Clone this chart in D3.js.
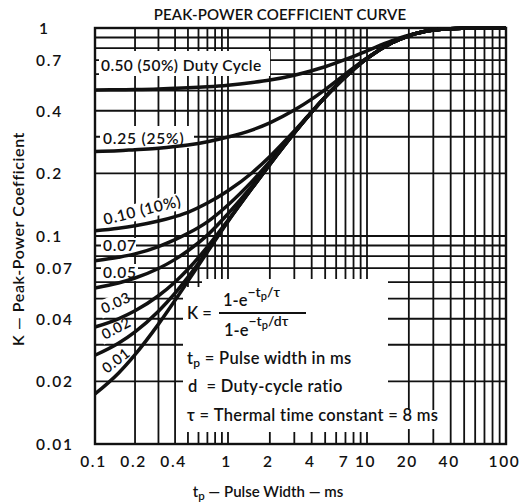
<!DOCTYPE html>
<html><head><meta charset="utf-8">
<script src="https://cdn.jsdelivr.net/npm/d3@7"></script>
<style>
html,body{margin:0;padding:0;background:#fff;}
svg{display:block;}
text{font-family:Lato,"DejaVu Sans",sans-serif;fill:#111;font-weight:600;}
</style>
</head><body>
<svg id="c" width="532" height="504"></svg>
<script>
// ---- data ----
const pulseWidth = [0.1,0.15,0.2,0.3,0.4,0.5,0.7,1,1.5,2,3,4,5,7,10,15,20,30,40,60,100];
const k50 = [0.503,0.505,0.506,0.509,0.513,0.516,0.522,0.531,0.547,0.562,0.593,0.623,0.651,0.706,0.777,0.867,0.924,0.977,0.993,0.999,1.0];
const k25 = [0.255,0.257,0.260,0.264,0.269,0.274,0.284,0.299,0.324,0.350,0.403,0.455,0.506,0.601,0.718,0.847,0.918,0.977,0.993,0.999,1.0];
const k10 = [0.106,0.109,0.112,0.118,0.124,0.130,0.144,0.165,0.202,0.241,0.320,0.396,0.466,0.583,0.714,0.847,0.918,0.977,0.993,0.999,1.0];
const k07 = [0.076,0.079,0.082,0.089,0.096,0.103,0.117,0.141,0.184,0.228,0.314,0.394,0.465,0.583,0.714,0.847,0.918,0.977,0.993,0.999,1.0];
const k05 = [0.0562,0.0594,0.0628,0.0698,0.0772,0.0849,0.101,0.128,0.175,0.223,0.313,0.394,0.465,0.583,0.714,0.847,0.918,0.977,0.993,0.999,1.0];
const k03 = [0.0365,0.0400,0.0437,0.0516,0.0601,0.0692,0.0886,0.119,0.171,0.221,0.313,0.394,0.465,0.583,0.714,0.847,0.918,0.977,0.993,0.999,1.0];
const k02 = [0.0267,0.0305,0.0346,0.0435,0.0531,0.0634,0.0849,0.118,0.171,0.221,0.313,0.394,0.465,0.583,0.714,0.847,0.918,0.977,0.993,0.999,1.0];
const k01 = [0.0174,0.0219,0.0269,0.0377,0.0491,0.0607,0.0838,0.1175,0.171,0.221,0.313,0.394,0.465,0.583,0.714,0.847,0.918,0.977,0.993,0.999,1.0];
const seriesValues = [k50,k25,k10,k07,k05,k03,k02,k01];

const xGridValues = [0.2,0.3,0.4,0.5,0.6,0.7,0.8,0.9,1,2,3,4,5,6,7,8,9,10,20,30,40,50,60,70,80,90];
const yGridValues = [0.02,0.03,0.04,0.05,0.06,0.07,0.08,0.09,0.1,0.2,0.3,0.4,0.5,0.6,0.7,0.8,0.9];
const xTickValues = [0.1,0.2,0.4,1,2,4,7,10,20,40,100];
const xTickLabels = ["0.1","0.2","0.4","1","2","4","7","10","20","40","100"];
const yTickValues = [1,0.7,0.4,0.2,0.1,0.07,0.04,0.02,0.01];
const yTickLabels = ["1","0.7","0.4","0.2","0.1","0.07","0.04","0.02","0.01"];

const titleText = "PEAK-POWER COEFFICIENT CURVE";

// ---- drawing ----
const svg = d3.select("#c");
const L=95,R=506,T=28,B=444;
const x = d3.scaleLog().domain([0.1,1,10,100]).range([L,228,367,R]);
const y = d3.scaleLog().domain([0.01,1]).range([B,T]);
const ink = "#111";
const FF = 'Lato,"DejaVu Sans",sans-serif';

svg.append("rect").attr("width",532).attr("height",504).attr("fill","#fff");

// grid
const g = svg.append("g").attr("stroke",ink).attr("stroke-width",1.8);
g.selectAll("line.v").data(xGridValues).join("line").attr("class","v")
  .attr("x1",d=>x(d)).attr("x2",d=>x(d)).attr("y1",T).attr("y2",B);
g.selectAll("line.h").data(yGridValues).join("line").attr("class","h")
  .attr("x1",L).attr("x2",R).attr("y1",d=>y(d)).attr("y2",d=>y(d));

// white masks behind annotations
const masks = svg.append("g").attr("fill","#fff");
[[99,51,171,25],[100,126,94,22],[101,238,35,15],[101,264,37,17],
 [183,287,205,145],[202,279,186,9],[183,410,254,19]].forEach(r=>{
  masks.append("rect").attr("x",r[0]).attr("y",r[1]).attr("width",r[2]).attr("height",r[3]);
});
// rotated masks
[[104,225,-14,84],[103,314,-25,31],[104,340,-28,31],[106,374,-38,31]].forEach(r=>{
  masks.append("rect").attr("transform",`translate(${r[0]},${r[1]}) rotate(${r[2]})`)
    .attr("x",-2).attr("y",-13).attr("width",r[3]).attr("height",17);
});

// frame
svg.append("rect").attr("x",L).attr("y",T).attr("width",R-L).attr("height",B-T)
  .attr("fill","none").attr("stroke",ink).attr("stroke-width",2.4);

// curves
const line = d3.line().x(d=>x(d[0])).y(d=>y(d[1])).curve(d3.curveMonotoneX);
svg.append("g").selectAll("path").data(seriesValues).join("path")
  .attr("d",vals=>line(pulseWidth.map((t,i)=>[t,vals[i]])))
  .attr("fill","none").attr("stroke",ink).attr("stroke-width",3.5).attr("stroke-linejoin","round");

// title
svg.append("text").attr("x",280).attr("y",20).attr("text-anchor","middle")
  .attr("font-size",15).attr("letter-spacing",0.1).text(titleText);

// x axis labels
const xAxis = d3.axisBottom(x).tickValues(xTickValues).tickSize(0).tickPadding(0)
  .tickFormat((d,i)=>xTickLabels[i]);
const xa = svg.append("g").attr("transform",`translate(-2,${B+23})`).call(xAxis);
xa.select(".domain").remove();
xa.selectAll("text").attr("dy",0).attr("font-size",15.5).attr("letter-spacing",1.6)
  .style("font-family",FF).style("font-weight",600).attr("fill",ink);

// y axis labels (left-aligned)
const yAxis = d3.axisLeft(y).tickValues(yTickValues).tickSize(0).tickPadding(0)
  .tickFormat((d,i)=>yTickLabels[i]);
const ya = svg.append("g").attr("transform","translate(36,0)").call(yAxis);
ya.select(".domain").remove();
ya.selectAll("text").attr("text-anchor","start").attr("x",0).attr("dy","0.35em")
  .attr("font-size",15.5).attr("letter-spacing",1.8)
  .style("font-family",FF).style("font-weight",600).attr("fill",ink);
ya.selectAll(".tick").filter(d=>d===1).select("text").attr("x",3);

// axis titles
const xt = svg.append("text").attr("x",268).attr("y",497).attr("text-anchor","middle").attr("font-size",15);
xt.append("tspan").text("t");
xt.append("tspan").attr("dy",3).attr("font-size",11.5).text("p");
xt.append("tspan").attr("dy",-3).text(" \u2014 Pulse Width \u2014 ms");

svg.append("text").attr("transform","translate(24,239) rotate(-90)").attr("text-anchor","middle")
  .attr("font-size",16).attr("letter-spacing",0.6).text("K \u2014 Peak-Power Coefficient");

// series labels
const lab = svg.append("g").attr("font-size",15.5);
lab.append("text").attr("x",101).attr("y",71).attr("letter-spacing",0.4).text("0.50 (50%) Duty Cycle");
lab.append("text").attr("x",103).attr("y",144).attr("letter-spacing",0.8).text("0.25 (25%)");
lab.append("text").attr("transform","translate(105,225) rotate(-14)").attr("letter-spacing",0.6).text("0.10 (10%)");
lab.append("text").attr("x",103).attr("y",251).attr("letter-spacing",0.8).text("0.07");
lab.append("text").attr("x",103).attr("y",278).attr("letter-spacing",0.8).text("0.05");
lab.append("text").attr("transform","translate(104,314) rotate(-25)").attr("font-size",14.5).attr("letter-spacing",0.5).text("0.03");
lab.append("text").attr("transform","translate(105,340) rotate(-28)").attr("font-size",14.5).attr("letter-spacing",0.5).text("0.02");
lab.append("text").attr("transform","translate(107,374) rotate(-38)").attr("font-size",14.5).attr("letter-spacing",0.5).text("0.01");

// formula
const f = svg.append("g").attr("font-size",16.5);
f.append("text").attr("x",187).attr("y",319).text("K =");
f.append("line").attr("x1",219).attr("x2",306).attr("y1",313).attr("y2",313).attr("stroke",ink).attr("stroke-width",1.8);
const num = f.append("text").attr("x",223).attr("y",306);
num.append("tspan").text("1-e");
num.append("tspan").attr("dy",-9).attr("font-size",14).text("\u2212t");
num.append("tspan").attr("dy",3).attr("font-size",11).text("p");
num.append("tspan").attr("dy",-3).attr("font-size",14).text("/\u03c4");
const den = f.append("text").attr("x",224).attr("y",336);
den.append("tspan").text("1-e");
den.append("tspan").attr("dy",-10).attr("font-size",14).text("\u2212t");
den.append("tspan").attr("dy",3).attr("font-size",11).text("p");
den.append("tspan").attr("dy",-3).attr("font-size",14).text("/d\u03c4");

const l1 = f.append("text").attr("x",187).attr("y",364).attr("letter-spacing",0.3);
l1.append("tspan").text("t");
l1.append("tspan").attr("dy",3).attr("font-size",12).text("p");
l1.append("tspan").attr("dy",-3).text(" = Pulse width in ms");
f.append("text").attr("x",188).attr("y",392).attr("letter-spacing",0.3).attr("xml:space","preserve").text("d  = Duty-cycle ratio");
f.append("text").attr("x",187).attr("y",421).attr("letter-spacing",0.3).text("\u03c4 = Thermal time constant = 8 ms");
</script>
</body></html>
